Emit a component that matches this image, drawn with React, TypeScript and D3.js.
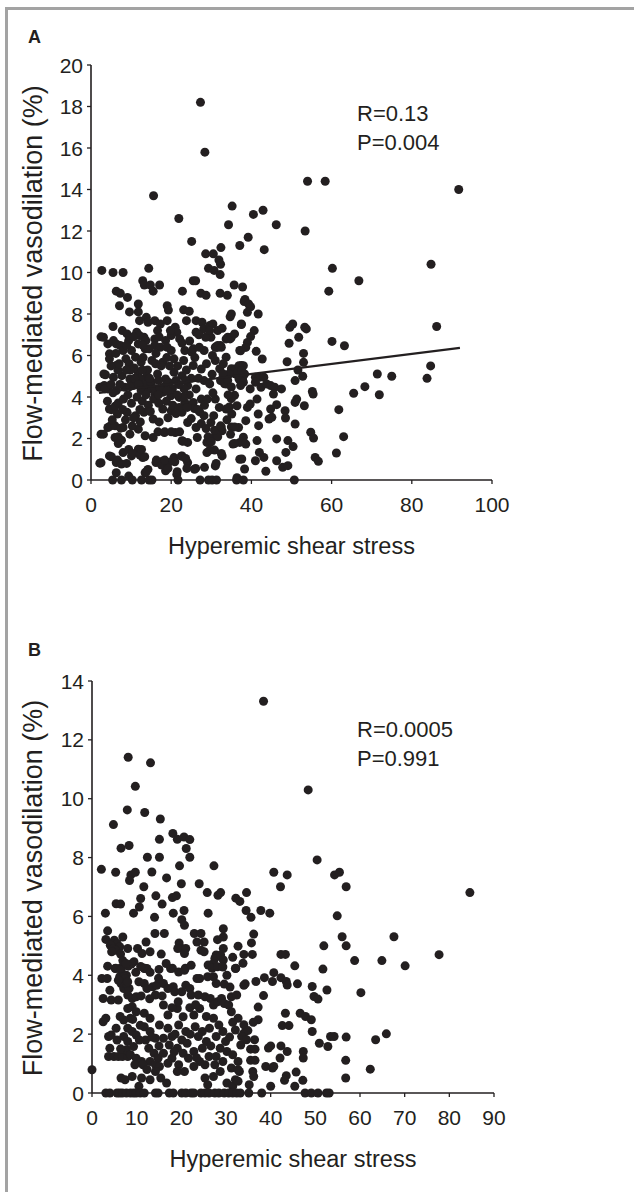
import * as d3 from "d3";

type Pt = [number, number];

// values, panel A (FMD vs hyperemic shear stress)
const panelAPoints: Pt[] = [
  [27.3,18.2],[28.4,15.8],[15.6,13.7],[21.9,12.6],[25.1,11.5],[35.2,13.2],[34.3,12.3],[40.5,12.8],[42.9,13.0],[46.2,12.3],
  [39.2,11.7],[37.1,11.3],[43.2,11.1],[54.0,14.4],[58.4,14.4],[53.4,12.0],[91.7,14.0],[84.8,10.4],[60.2,10.2],[59.3,9.1],
  [66.8,9.6],[32.4,11.2],[28.6,10.9],[30.5,10.9],[31.9,10.6],[32.3,10.4],[29.3,10.2],[30.7,10.1],[32.2,9.9],[2.7,10.1],
  [5.5,10.0],[8.0,10.0],[14.4,10.2],[12.9,9.6],[13.3,9.4],[14.8,9.4],[15.5,9.1],[17.1,9.4],[6.3,9.1],[7.3,9.0],
  [9.1,8.8],[22.8,9.1],[25.5,9.6],[26.1,9.6],[27.4,9.0],[28.7,8.9],[32.2,9.0],[34.0,8.9],[35.7,9.4],[37.8,9.3],[38.4,8.7],
  [7.1,8.4],[9.6,8.1],[5.5,7.4],[2.5,6.9],[11.8,8.48],[11.8,8.1],[19.0,8.4],[19.3,8.19],[23.1,8.2],[24.5,8.13],
  [23.8,7.68],[26.2,7.68],[27.7,7.6],[28.1,7.28],[29.6,7.44],[26.2,7.12],[29.9,6.88],[28.6,6.88],[31.6,7.2],[32.7,7.31],
  [31.0,6.4],[31.6,6.4],[34.7,7.87],[33.7,6.8],[34.7,6.8],[32.3,6.48],[37.5,7.52],[23.4,6.24],[25.1,6.16],[25.5,6.32],
  [28.2,6.24],[37.1,6.24],[4.2,6.56],[5.6,6.72],[6.3,6.56],[7.3,6.48],[4.6,6.08],[7.8,7.2],[9.0,7.04],[9.7,6.88],
  [9.4,6.72],[11.4,7.12],[12.1,6.96],[13.2,6.88],[13.7,6.72],[12.1,7.68],[13.8,7.84],[14.2,7.6],[15.9,7.68],[17.3,7.52],
  [16.6,7.2],[19.0,7.68],[21.0,7.36],[21.4,7.12],[20.0,6.96],[18.6,6.72],[15.9,6.8],[15.9,6.48],[17.3,6.4],[22.1,6.8],
  [11.8,6.56],[13.5,6.32],[14.5,6.32],[19.0,6.4],[20.0,6.24],[10.1,6.24],[8.0,6.24],
  [4.6,5.84],[6.3,5.52],[8.7,5.84],[11.1,5.92],[12.5,5.68],[15.2,5.76],[17.9,5.68],[20.7,5.84],[23.1,5.76],[25.5,5.52],
  [27.5,5.35],[31.0,5.76],[33.7,5.92],[35.8,5.35],[37.5,5.52],[3.2,5.11],[5.6,4.95],[7.7,5.03],[9.7,4.87],[11.8,5.19],
  [13.8,4.95],[16.6,5.11],[18.6,4.87],[20.7,5.19],[22.7,5.03],[24.1,4.55],[26.2,4.39],[28.2,4.79],[29.6,4.63],[32.3,4.79],
  [33.7,4.63],[36.1,5.11],[37.8,4.87],[2.2,4.47],[4.2,4.39],[6.3,4.31],[8.4,4.47],[10.4,4.55],[12.5,4.31],[14.5,4.39],
  [15.9,4.15],[17.9,4.23],[19.9,4.06],[22.0,3.98],[23.4,3.74],[25.5,3.74],[27.5,3.9],[31.0,3.9],[33.7,3.42],[36.4,3.58],
  [4.6,3.42],[6.6,3.18],[9.0,3.26],[11.1,3.1],[13.2,3.26],[15.5,2.94],[17.9,3.42],[20.0,3.34],[22.7,3.26],[24.1,2.77],
  [26.2,2.53],[28.2,3.1],[29.9,2.77],[32.3,2.61],[35.1,3.18],[36.8,2.53],[2.5,2.21],[4.2,2.53],[6.0,2.05],[8.0,2.53],
  [9.7,2.21],[11.8,2.45],[13.5,2.13],[15.5,2.05],[18.3,2.29],[21.0,2.29],[22.7,1.89],[24.1,1.81],[26.5,2.05],[28.9,1.81],
  [31.0,2.13],[32.7,2.37],[35.4,1.73],[37.1,1.81],[2.2,0.81],[4.6,1.16],[6.3,0.84],[8.0,1.32],[10.1,1.16],[11.8,1.48],
  [12.9,1.08],[16.2,0.84],[17.9,0.92],[19.3,0.84],[20.7,1.08],[22.7,1.16],[24.1,0.84],[25.8,0.52],[28.9,1.32],[31.0,0.68],
  [32.7,1.16],[37.1,1.0],[6.3,0.35],[9.4,0.19],[13.5,0.35],[18.6,0.44],[21.4,0.27],[36.4,0.11],
  [5.4,0],[7.6,0],[10.3,0],[12.6,0],[14.5,0],[15.2,0],[21.7,0],[27.2,0],[29.3,0],[30.2,0],[31.3,0],[36.3,0],
  [3.1,6.88],[3.6,5.07],[3.3,4.56],[3.5,4.4],[3.1,2.21],[2.5,0.83],[5.1,1.12],[4.7,2.59],[6.0,2.61],[5.1,3.39],
  [6.0,3.55],[6.8,3.71],[6.8,2.08],[7.6,1.92],[6.8,1.76],[6.6,0.96],[7.6,0.77],[8.9,0.8],[9.4,1.47],[10.3,1.28],
  [12.2,1.2],[13.4,1.12],[12.6,1.47],[14.2,0.51],[13.8,0.4],[16.3,0.96],[17.6,0.72],[18.4,0.96],[19.2,0.56],[20.5,0.96],
  [20.9,0.88],[21.5,0.4],[22.5,1.15],[23.6,1.04],[23.9,0.56],[26.1,0.56],[28.3,0.61],[31.2,0.8],[31.6,2.08],[30.8,2.4],
  [32.5,2.56],[32.5,1.28],[30.8,1.44],[29.6,1.44],[16.7,2.32],[18.4,2.32],[20.0,2.32],[22.1,2.32],[22.9,1.87],[25.0,2.96],
  [25.8,3.44],[27.1,3.28],[28.3,3.6],[27.5,2.72],[28.7,2.48],[29.2,2.08],[30.0,1.84],[34.5,3.52],[35.0,3.92],[35.8,4.08],
  [35.0,2.56],[35.8,2.56],[35.8,1.76],[35.0,5.36],[35.8,5.28],[36.6,5.2],[34.5,5.12],[32.5,4.8],[33.3,4.64],[34.1,4.8],
  [35.0,4.48],[32.1,5.36],[32.9,5.12],[31.2,6.4],[31.6,6.48],[32.5,6.4],[34.1,6.88],[35.0,6.88],[35.8,7.04],[30.4,7.52],
  [29.6,7.2],[35.0,8.0],
  [10.8,5.4],[12.2,4.9],[13.4,4.6],[14.1,5.3],[15.0,4.7],[16.0,4.4],[16.8,4.8],[17.5,5.5],[18.2,4.5],[19.4,4.7],
  [20.3,4.4],[21.2,4.8],[11.5,4.0],[12.8,3.8],[14.3,3.6],[15.6,3.9],[16.9,3.7],[18.8,3.8],[20.4,3.6],[9.2,4.1],
  [10.1,3.7],[8.1,3.9],[7.2,4.6],[5.5,4.2],[6.7,5.3],[9.5,5.6],[13.0,5.9],[16.2,6.1],[18.9,5.9],[21.6,5.5],
  [23.8,5.3],[25.0,4.9],[26.8,4.9],[24.5,4.1],[23.2,4.4],[22.0,3.5],[21.2,3.2],[19.2,3.0],[17.0,2.8],[14.8,3.3],
  [12.3,2.8],[10.3,2.6],[8.6,2.9],[7.4,2.5],[5.3,2.9],
  [5.0,5.5],[7.0,5.6],[9.8,5.3],[10.9,4.9],[12.8,5.3],[14.6,4.9],[16.1,5.6],[17.2,4.4],[19.6,5.5],[21.9,4.6],
  [23.6,4.8],[25.9,5.9],[28.8,5.6],[30.2,5.1],[30.4,4.2],[29.0,3.9],[26.6,3.4],[24.0,3.5],[23.0,4.0],[21.5,4.1],
  [19.0,4.3],[16.8,4.1],[13.7,4.1],[11.9,4.6],[9.7,4.5],[8.8,5.3],[5.0,4.6],[4.1,3.8],[7.9,3.4],[10.6,3.0],
  [12.2,3.4],[6.2,6.1],[8.9,6.5],[10.6,6.9],[12.9,6.5],[17.0,6.9],[19.8,7.2],[22.7,6.6],[24.6,6.7],[27.0,6.4],
  [26.9,7.0],[30.3,6.0],[33.0,5.6],[34.2,4.1],[32.0,3.5],[30.6,3.1],[33.9,2.9],[34.8,2.2],
  [38.2,8.6],[39.3,8.48],[39.8,8.35],[39.0,8.08],[41.7,8.0],[37.5,7.49],[40.7,7.2],[39.8,6.91],[39.0,6.63],[38.6,6.39],
  [37.3,6.23],[41.2,6.2],[42.7,5.83],[49.6,7.36],[50.3,7.52],[53.3,7.36],[53.7,7.28],[51.8,6.88],[49.4,6.59],[60.1,6.68],
  [63.2,6.47],[53.0,6.1],[53.0,5.67],[48.9,5.7],[51.6,5.3],[50.9,4.79],[52.8,5.0],[55.2,4.27],[55.4,4.14],[51.3,3.9],
  [50.9,3.74],[53.2,3.58],[36.9,5.51],[38.0,5.51],[37.6,5.27],[38.3,5.11],[36.9,4.87],[38.0,4.71],[37.3,4.55],[41.0,4.95],
  [42.0,4.95],[43.1,4.95],[41.0,4.71],[42.4,4.47],[43.8,4.63],[44.8,4.55],[45.8,4.47],[45.5,4.14],[47.5,4.39],[39.7,4.39],
  [41.4,3.9],[39.0,3.5],[39.7,3.66],[38.6,2.86],[41.7,3.18],[41.8,2.62],[44.8,3.42],[44.4,2.94],[45.1,3.02],[46.3,3.63],
  [48.4,3.34],[48.5,2.99],[50.9,2.7],[38.0,2.06],[38.6,1.73],[41.4,1.9],[46.3,1.98],[49.1,1.9],[50.4,1.61],[48.6,1.33],
  [42.0,1.33],[43.1,1.09],[41.0,0.93],[46.3,0.93],[47.8,0.61],[49.1,0.69],[43.6,0.42],[38.3,0.53],[37.6,1.01],[54.8,2.3],
  [55.5,2.02],[55.9,1.09],[56.7,0.9],[61.8,3.39],[63.0,2.09],[61.2,1.3],[65.5,4.18],[68.3,4.5],[71.4,5.11],[75.0,5.0],
  [71.9,4.11],[38.0,0],[50.7,0],[83.8,4.9],[84.7,5.5],[86.2,7.4],
];

// panel B
const panelBPoints: Pt[] = [
  [38.4,13.31],[48.4,10.3],[8.1,11.41],[13.1,11.22],[9.7,10.42],[7.9,9.62],[11.8,9.53],[15.3,9.31],[4.8,9.12],[6.5,8.32],
  [8.3,8.41],[12.4,8.01],[15.1,8.01],[15.1,8.62],[18.1,8.82],[19.1,8.62],[20.6,8.7],[21.9,8.61],[21.1,8.31],[21.9,8.01],
  [19.6,7.72],[27.3,7.72],[2.1,7.6],[5.3,7.5],[8.7,7.41],[9.7,7.5],[8.4,7.22],[13.4,7.51],[16.7,7.31],[20.0,7.11],
  [11.6,7.01],[10.9,6.61],[14.3,6.7],[15.7,6.42],[18.0,6.64],[18.9,6.7],[24.0,7.11],[25.8,6.81],[28.2,6.72],[28.8,6.81],
  [32.2,6.62],[33.1,6.51],[34.6,6.81],[40.7,7.5],[43.7,7.41],[42.2,7.01],[50.4,7.92],[54.3,7.41],[55.4,7.5],[56.9,7.01],
  [84.6,6.81],[5.4,6.43],[6.4,6.42],[3.0,6.11],[9.3,6.11],[10.6,6.32],[20.6,6.2],[26.0,6.11],[34.5,6.2],[37.8,6.2],
  [39.8,6.11],[35.6,5.97],[54.9,6.02],[14.0,5.97],[18.2,6.11],[20.1,5.89],
  [3.5,5.51],[3.1,5.22],[5.0,5.19],[5.6,5.08],[4.1,5.02],[4.7,4.91],[6.2,4.97],[5.3,4.85],[4.4,4.8],[6.9,5.3],
  [6.4,4.72],[8.0,4.91],[9.4,4.46],[8.8,4.38],[10.2,4.91],[11.2,4.74],[12.1,5.13],[13.0,4.8],[14.1,5.42],[16.2,5.42],
  [15.5,4.72],[19.5,5.1],[20.1,4.91],[19.2,4.91],[21.0,4.91],[20.7,4.74],[20.7,5.7],[22.9,5.42],[24.4,5.42],[23.5,5.13],
  [25.1,5.13],[24.4,4.85],[25.1,4.8],[28.1,5.21],[29.4,5.3],[29.4,5.58],[27.8,4.69],[29.4,4.91],[27.5,4.57],[27.2,4.4],
  [28.8,4.69],[29.4,4.52],[31.5,4.61],[32.7,4.99],[3.5,4.31],[5.3,4.24],[6.5,4.26],[8.1,4.31],[11.8,4.24],[18.0,4.24],
  [20.9,4.24],[26.0,4.35],[26.9,4.24],[28.1,4.29],[32.2,4.24],
  [0,0.79],[2.2,3.89],[3.4,3.89],[2.5,3.21],[4.0,3.49],[4.3,3.16],[5.9,3.16],[2.5,2.42],[3.1,2.54],[3.7,1.92],
  [4.3,1.97],[4.0,1.52],[3.7,1.24],[4.9,1.24],[5.9,1.24],[6.8,1.24],[8.0,1.24],[5.2,4.23],[6.5,4.17],[7.7,4.0],
  [6.8,3.78],[7.1,3.55],[8.3,3.55],[8.0,3.33],[9.0,3.21],[9.9,3.27],[6.2,3.95],[7.1,3.95],[6.5,3.72],[7.4,3.89],
  [7.7,3.72],[8.0,3.78],[5.9,3.83],[10.5,3.78],[11.7,3.72],[12.3,3.55],[13.6,3.61],[14.2,3.33],[14.5,3.66],[16.0,3.72],
  [17.0,3.55],[18.2,3.61],[11.7,4.23],[12.3,4.23],[17.6,4.23],[19.4,4.11],[20.7,4.17],[22.2,4.34],[23.5,3.89],[24.1,3.89],
  [25.9,3.95],[27.2,3.95],[27.8,3.72],[29.3,4.28],[30.2,4.0],[32.1,4.23],[34.0,3.66],[18.5,3.44],[20.1,3.44],[21.0,3.66],
  [21.9,3.55],[22.2,3.33],[23.8,3.33],[25.3,3.27],[26.5,3.21],[27.2,2.99],[28.1,3.1],[29.0,3.21],[29.6,3.04],[30.6,2.99],
  [31.2,3.27],[32.4,3.33],[8.0,2.87],[9.0,2.93],[9.9,2.76],[8.6,2.54],[7.1,2.48],[8.0,2.2],[9.0,2.09],[9.9,1.97],
  [7.1,1.92],[8.0,1.75],[9.3,1.58],[7.7,1.47],[8.6,1.3],[9.9,1.18],[11.1,1.07],[9.6,0.96],[11.7,2.71],[13.0,2.54],
  [11.7,2.25],[13.0,2.09],[14.2,1.86],[12.0,1.8],[12.7,1.52],[13.9,1.35],[14.8,1.18],[13.0,1.07],[11.4,0.96],[14.2,0.96],
  [16.0,2.99],[17.0,2.65],[15.1,2.31],[17.0,2.2],[17.9,1.92],[16.0,1.86],[17.3,1.63],[16.0,1.35],[17.9,1.18],[17.0,1.01],
  [15.1,0.9],[19.1,2.87],[20.4,2.59],[19.4,2.31],[21.0,2.09],[20.1,1.8],[21.3,1.69],[19.1,1.52],[20.4,1.35],[21.6,1.18],
  [19.4,0.96],[20.7,0.73],[22.8,2.65],[24.1,2.87],[23.1,2.25],[24.7,2.09],[23.8,1.92],[25.6,1.75],[24.7,1.52],[26.2,1.24],
  [22.8,1.41],[24.1,1.07],[25.3,0.96],[22.8,0.9],[27.2,2.54],[28.4,2.31],[29.3,2.09],[27.8,1.92],[29.9,1.75],[28.7,1.52],
  [30.2,1.41],[27.8,1.24],[29.3,1.07],[27.5,0.96],[28.7,0.73],[27.2,0.56],[31.2,2.76],[32.7,2.54],[32.1,2.14],[33.3,1.63],
  [31.5,1.3],[32.7,1.07],[31.2,0.85],[33.0,0.73],[32.1,0.45],[34.0,2.03],[6.5,0.51],[7.4,0.45],[9.0,0.56],[14.2,0.73],
  [15.4,0.51],[16.7,0.34],[13.0,0.45],[11.1,0.51],[10.5,0.23],[19.1,0.73],[25.3,0.51],[25.9,0.28],[30.2,0.34],[31.5,0.23],
  [6.9,4.5],[7.6,4.4],[9.8,4.1],[10.9,4.3],[13.0,4.1],[15.0,4.2],[16.6,4.4],[14.9,3.9],[12.9,3.2],[11.0,3.3],
  [15.7,3.3],[17.9,2.9],[19.3,3.1],[21.9,2.9],[23.2,3.0],[25.6,2.6],[26.3,2.2],[22.0,2.0],[18.6,2.0],[15.0,1.6],
  [13.4,1.9],[10.6,1.8],[10.8,2.3],[9.1,2.5],[5.4,2.2],[6.3,2.6],[5.6,1.8],[6.4,1.5],[12.3,0.8],[18.4,1.4],
  [23.4,1.2],[26.6,1.6],[30.8,1.9],[31.5,2.4],[30.9,3.6],[29.6,3.7],
  [3.1,0],[4.0,0],[5.6,0],[6.2,0],[6.8,0],[7.7,0],[8.6,0],[9.3,0],[9.9,0],[10.8,0],
  [11.7,0],[14.2,0],[14.8,0],[17.3,0],[18.2,0],[20.1,0],[21.0,0],[22.2,0],[22.8,0],[24.4,0],
  [25.3,0],[26.2,0],[27.5,0],[28.4,0],[29.6,0],[30.6,0],[31.5,0],[32.4,0],
  [58.8,4.5],[64.9,4.5],[67.6,5.31],[70.1,4.32],[60.2,3.41],[51.9,5.0],[51.7,4.21],[56.0,5.31],[56.9,5.0],[36.2,5.4],
  [35.7,5.1],[35.9,4.71],[34.0,4.71],[33.8,4.41],[42.3,4.71],[43.3,4.71],[45.4,4.32],[40.7,4.09],[38.6,3.92],[36.7,3.79],
  [34.3,3.71],[40.4,3.79],[42.3,3.92],[43.5,3.79],[43.7,3.67],[46.0,3.71],[49.3,3.62],[49.7,3.28],[50.6,3.19],[52.6,3.5],
  [38.4,3.31],[37.2,2.92],[37.2,2.49],[36.1,2.4],[43.3,2.71],[42.6,2.29],[44.1,2.29],[46.6,2.71],[47.8,2.6],[49.1,2.49],
  [49.3,2.09],[34.0,2.32],[34.9,2.12],[33.5,1.92],[34.6,1.81],[36.4,1.81],[35.5,1.49],[36.5,1.49],[39.5,1.53],[40.0,1.6],
  [42.3,1.6],[43.7,1.41],[42.1,1.19],[47.3,1.41],[47.3,1.19],[50.9,1.69],[52.8,1.58],[53.4,1.92],[54.2,1.92],[56.9,1.9],
  [35.5,1.11],[36.5,1.11],[38.9,0.9],[40.4,0.85],[40.7,0.9],[36.0,0.73],[36.2,0.56],[35.2,0.28],[43.5,0.59],[43.1,0.43],
  [45.7,0.71],[47.2,0.43],[45.4,0.23],[40.0,0.23],[56.8,1.11],[56.8,0.51],[62.3,0.81],[63.5,1.81],[65.9,2.01],[32.7,0.4],
  [32.7,0.79],[33.2,0],[35.1,0],[38.0,0],[47.7,0],[49.1,0],[50.6,0],[52.5,0],[53.1,0],[77.7,4.7],
];

const panelAXTicks = [0, 20, 40, 60, 80, 100];
const panelAYTicks = [0, 2, 4, 6, 8, 10, 12, 14, 16, 18, 20];
const panelBXTicks = [0, 10, 20, 30, 40, 50, 60, 70, 80, 90];
const panelBYTicks = [0, 2, 4, 6, 8, 10, 12, 14];

const panelAStats = ["R=0.13", "P=0.004"];
const panelBStats = ["R=0.0005", "P=0.991"];

// least-squares line drawn in panel A
const panelAFit = { from: 2, to: 92, intercept: 4.15, slope: 0.0241 };

const X_TITLE = "Hyperemic shear stress";
const Y_TITLE = "Flow-mediated vasodilation (%)";

const FONT = "'Liberation Sans', Arial, Helvetica, sans-serif";
const INK = "#231f20";

type PanelProps = {
  label: string;
  labelY: number;
  points: Pt[];
  xMax: number;
  yMax: number;
  xTicks: number[];
  yTicks: number[];
  stats: string[];
  fit?: { from: number; to: number; intercept: number; slope: number };
  box: { left: number; right: number; top: number; bottom: number };
};

function Panel({ label, labelY, points, xMax, yMax, xTicks, yTicks, stats, fit, box }: PanelProps) {
  const x = d3.scaleLinear().domain([0, xMax]).range([box.left, box.right]);
  const y = d3.scaleLinear().domain([0, yMax]).range([box.bottom, box.top]);

  const fitLine =
    fit &&
    d3
      .line<number>()
      .x((d) => x(d))
      .y((d) => y(fit.intercept + fit.slope * d))([fit.from, fit.to]);

  return (
    <g fontFamily={FONT} fill={INK}>
      <text x={28} y={labelY} fontSize={18} fontWeight="bold">
        {label}
      </text>

      {/* axes */}
      <line x1={x(0)} x2={x(0)} y1={y(yMax)} y2={y(0)} stroke={INK} strokeWidth={1.6} />
      <line x1={x(0)} x2={x(xMax)} y1={y(0)} y2={y(0)} stroke={INK} strokeWidth={1.6} />

      {yTicks.map((t) => (
        <g key={"y" + t}>
          <line x1={x(0) - 4} x2={x(0)} y1={y(t)} y2={y(t)} stroke={INK} strokeWidth={1.3} />
          <text x={x(0) - 8} y={y(t)} dy="0.36em" textAnchor="end" fontSize={21}>
            {t}
          </text>
        </g>
      ))}
      {xTicks.map((t) => (
        <g key={"x" + t}>
          <line x1={x(t)} x2={x(t)} y1={y(0)} y2={y(0) + 4} stroke={INK} strokeWidth={1.3} />
          <text x={x(t)} y={y(0) + 32} textAnchor="middle" fontSize={21}>
            {t}
          </text>
        </g>
      ))}

      {points.map(([px, py], i) => (
        <circle key={i} cx={x(px)} cy={y(py)} r={4.5} fill={INK} />
      ))}

      {fitLine && <path d={fitLine} fill="none" stroke={INK} strokeWidth={2.2} />}

      {stats.map((s, i) => (
        <text key={s} x={357} y={box.top + 56 + i * 29} fontSize={22}>
          {s}
        </text>
      ))}

      <text
        x={(box.left + box.right) / 2}
        y={box.bottom + 74}
        textAnchor="middle"
        fontSize={23.5}
      >
        {X_TITLE}
      </text>
      <text
        transform={`translate(42,${(box.top + box.bottom) / 2 + 1}) rotate(-90)`}
        textAnchor="middle"
        fontSize={27}
      >
        {Y_TITLE}
      </text>
    </g>
  );
}

export default function App() {
  return (
    <svg
      width={634}
      height={1192}
      viewBox="0 0 634 1192"
      style={{ position: "absolute", left: 0, top: 0, background: "#fff" }}
    >
      <rect width={634} height={1192} fill="#fff" />
      {/* grey frame, top and left edges */}
      <line x1={5} x2={634} y1={8.5} y2={8.5} stroke="#a3a3a3" strokeWidth={3} />
      <line x1={6.5} x2={6.5} y1={7} y2={1192} stroke="#a3a3a3" strokeWidth={3} />

      <Panel
        label="A"
        labelY={43}
        points={panelAPoints}
        xMax={100}
        yMax={20}
        xTicks={panelAXTicks}
        yTicks={panelAYTicks}
        stats={panelAStats}
        fit={panelAFit}
        box={{ left: 91, right: 492, top: 65, bottom: 480 }}
      />
      <Panel
        label="B"
        labelY={656}
        points={panelBPoints}
        xMax={90}
        yMax={14}
        xTicks={panelBXTicks}
        yTicks={panelBYTicks}
        stats={panelBStats}
        box={{ left: 92, right: 494, top: 681, bottom: 1093 }}
      />
    </svg>
  );
}
